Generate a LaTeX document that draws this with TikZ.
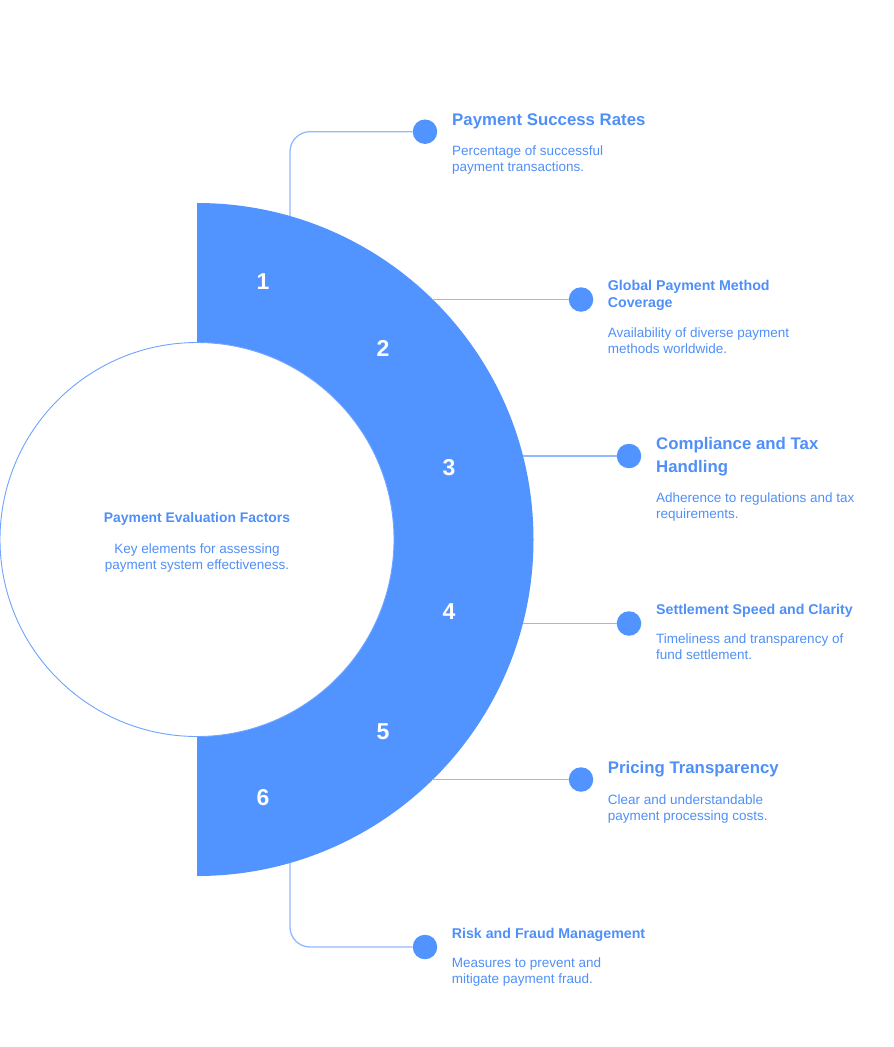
\documentclass[tikz,border=0pt]{standalone}
\usepackage{fontspec}
\setmainfont{Liberation Sans}
\definecolor{ringblue}{HTML}{5193FF}
\definecolor{txtblue}{HTML}{4F8FF8}
\definecolor{lineblue}{HTML}{92B8FF}
\definecolor{circblue}{HTML}{6FA3FF}
\tikzset{
  x=1pt, y=-1pt,
  bigtitle/.style={anchor=north west, inner sep=0pt, align=left, text=txtblue, font={\fontsize{16.8}{23}\selectfont\bfseries}},
  smalltitle/.style={anchor=north west, inner sep=0pt, align=left, text=txtblue, font={\fontsize{14.2}{17}\selectfont\bfseries}},
  desc/.style={anchor=north west, inner sep=0pt, align=left, text=txtblue, font={\fontsize{13.5}{16}\selectfont}},
  numlabel/.style={text=white, inner sep=0pt, font={\fontsize{23}{23}\selectfont\bfseries}},
  dot/.style={circle, fill=ringblue, minimum size=24.5pt, inner sep=0pt},
  conn/.style={draw=lineblue, line width=1.3pt},
}
\begin{document}
\begin{tikzpicture}
\useasboundingbox (0,0) rectangle (894,1047);
% ring
\fill[ringblue] (197,203) arc[start angle=-90, end angle=90, radius=336.5]
  -- (197,736.5) arc[start angle=90, end angle=-90, radius=197] -- cycle;
% inner circle
\node[circle, draw=circblue, line width=0.9pt, fill=white, minimum size=394pt, inner sep=0pt] (center) at (197,539.5) {};
\node[anchor=north, inner sep=0pt, text=txtblue, font={\fontsize{13.9}{16}\selectfont\bfseries}] (ctitle) at (197,512.7) {Payment Evaluation Factors};
\node[anchor=north, inner sep=0pt, align=center, text=txtblue, font={\fontsize{13.5}{16}\selectfont}] (cdesc) at (197,543.3) {Key elements for assessing\\payment system effectiveness.};
% numbers
\node[numlabel] (n1) at (263,282) {1};
\node[numlabel] (n2) at (383,348) {2};
\node[numlabel] (n3) at (449,468) {3};
\node[numlabel] (n4) at (449,612) {4};
\node[numlabel] (n5) at (383,732) {5};
\node[numlabel] (n6) at (263,798) {6};
% connector anchors on the arc
\coordinate (a1) at (290,216);
\coordinate (a2) at (432,299.5);
\coordinate (a3) at (523,456);
\coordinate (a4) at (523,623.5);
\coordinate (a5) at (432,779.5);
\coordinate (a6) at (290,863);
% dots
\node[dot] (d1) at (425,131.7) {};
\node[dot] (d2) at (581,299.5) {};
\node[dot] (d3) at (629,456) {};
\node[dot] (d4) at (629,623.5) {};
\node[dot] (d5) at (581,779.5) {};
\node[dot] (d6) at (425,947) {};
% connectors
\draw[conn, rounded corners=20pt] (a1) |- (d1.west);
\draw[conn] (a2) -- (d2.west);
\draw[conn] (a3) -- (d3.west);
\draw[conn] (a4) -- (d4.west);
\draw[conn] (a5) -- (d5.west);
\draw[conn, rounded corners=20pt] (a6) |- (d6.west);
% texts
\node[bigtitle] (t1) at (452,113.3) {Payment Success Rates};
\node[desc] (s1) at (452,146) {Percentage of successful\\payment transactions.};
\node[smalltitle] (t2) at (607.7,280.3) {Global Payment Method\\Coverage};
\node[desc] (s2) at (607.7,327.7) {Availability of diverse payment\\methods worldwide.};
\node[bigtitle] (t3) at (656,436.7) {Compliance and Tax\\Handling};
\node[desc] (s3) at (656,492.7) {Adherence to regulations and tax\\requirements.};
\node[smalltitle] (t4) at (656,604.3) {Settlement Speed and Clarity};
\node[desc] (s4) at (656,633.7) {Timeliness and transparency of\\fund settlement.};
\node[bigtitle] (t5) at (607.7,761) {Pricing Transparency};
\node[desc] (s5) at (607.7,794.3) {Clear and understandable\\payment processing costs.};
\node[smalltitle] (t6) at (451.7,928.3) {Risk and Fraud Management};
\node[desc] (s6) at (451.7,957.7) {Measures to prevent and\\mitigate payment fraud.};
\end{tikzpicture}
\end{document}
